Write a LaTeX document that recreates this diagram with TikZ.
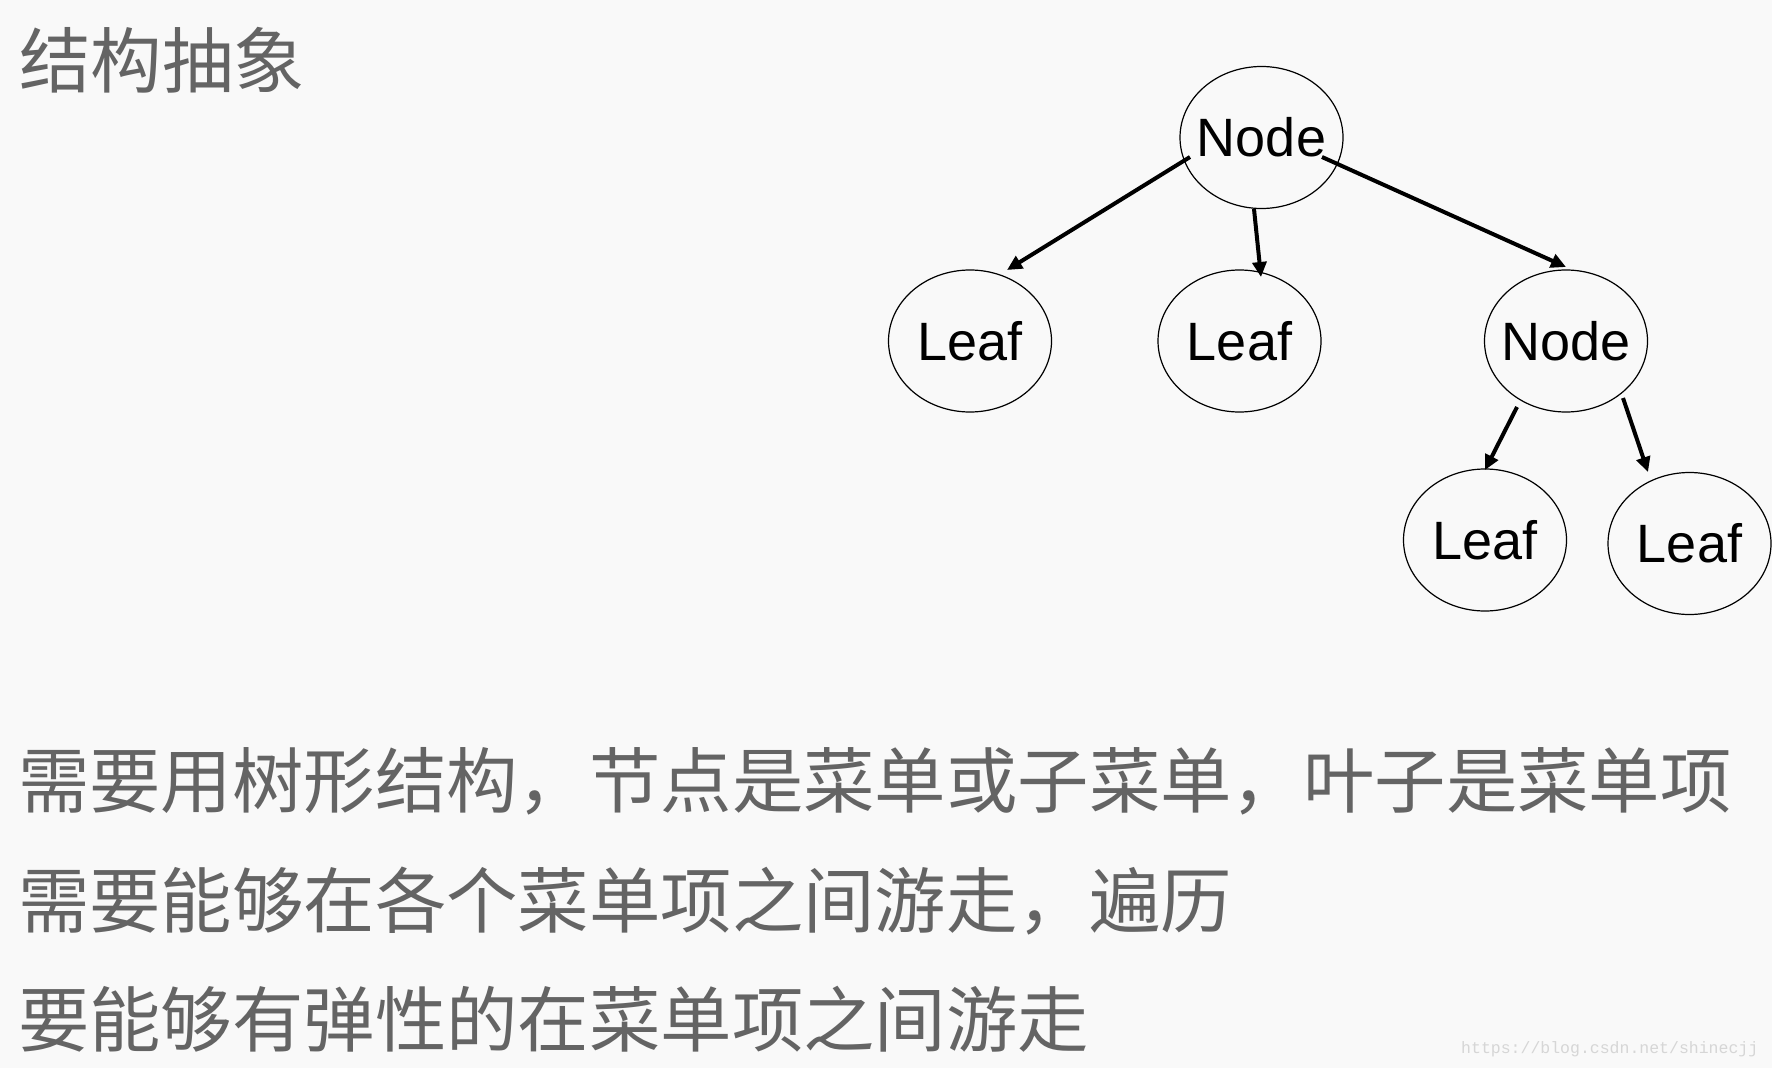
\documentclass[tikz,border=0pt]{standalone}
\usepackage{fontspec}
\setmainfont{Liberation Sans}
\newfontfamily\cjk{Noto Sans CJK SC}
\newfontfamily\wmfont{Liberation Mono}
\usetikzlibrary{shapes.geometric,arrows.meta,calc}
\definecolor{bgc}{HTML}{F9F9F9}
\definecolor{txtgray}{HTML}{646464}
\definecolor{wmgray}{HTML}{D6D6D6}
\begin{document}
\begin{tikzpicture}[x=1pt,y=-1pt,
  treenode/.style={ellipse,draw=black,line width=1.2pt,minimum width=163pt,minimum height=142pt,
    inner xsep=-25pt,inner ysep=0pt,
    font=\fontsize{54}{60}\selectfont,text=black},
  arr/.style={line width=4pt,-{Triangle[length=15pt,width=14pt]}},
  cjktext/.style={anchor=base west,inner sep=0pt,text=txtgray,font=\cjk\fontsize{71.4}{80}\selectfont}
]
\path[fill=bgc] (0,0) rectangle (1772,1068);
\useasboundingbox (0,0) rectangle (1772,1068);

\node[cjktext] (title) at (19,87) {结构抽象};

\node[treenode] (n0) at (1261.5,137.5) {Node};
\node[treenode] (l1) at (970,341) {Leaf};
\node[treenode] (l2) at (1239.5,341) {Leaf};
\node[treenode] (n2) at (1566,341) {Node};
\node[treenode] (l3) at (1485,540) {Leaf};
\node[treenode] (l4) at (1689.5,543.5) {Leaf};

\draw[arr] ($(n0.center)+(-71.5,19.5)$) -- ($(l1.center)+(37,-71)$);
\draw[arr] ($(n0.center)+(-7.5,71.5)$) -- ($(l2.center)+(21.5,-64)$);
\draw[arr] ($(n0.center)+(60.5,19.5)$) -- ($(n2.center)+(0,-74)$);
\draw[arr] ($(n2.center)+(-49,66)$) -- ($(l3.center)+(0,-70)$);
\draw[arr] ($(n2.center)+(57,57)$) -- ($(l4.center)+(-41.5,-71.5)$);

\node[cjktext] (line1) at (18,807) {需要用树形结构，节点是菜单或子菜单，叶子是菜单项};
\node[cjktext] (line2) at (18,927) {需要能够在各个菜单项之间游走，遍历};
\node[cjktext] (line3) at (18,1046) {要能够有弹性的在菜单项之间游走};

\node[anchor=base west,inner sep=0pt,text=wmgray,font=\wmfont\fontsize{16.5}{18}\selectfont] (wm) at (1461,1053) {https://blog.csdn.net/shinecjj};
\end{tikzpicture}
\end{document}
